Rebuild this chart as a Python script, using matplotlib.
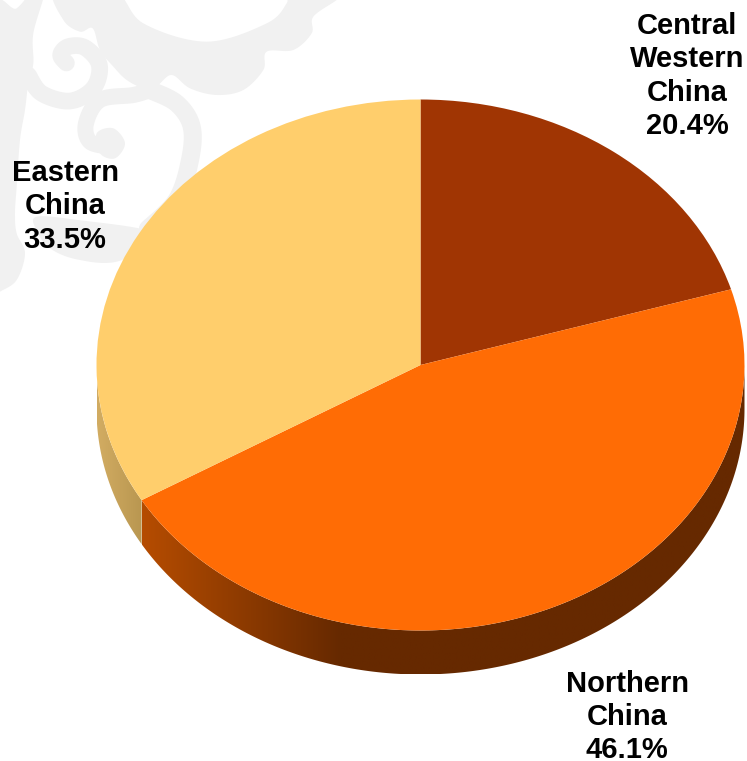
import numpy as np
import matplotlib
matplotlib.use("Agg")
import matplotlib.pyplot as plt
from matplotlib.path import Path
from matplotlib.patches import PathPatch, Polygon
from matplotlib.transforms import Affine2D
from matplotlib.colors import to_rgb

# Regional shares, clockwise from 12 o'clock
regions = ["Central\nWestern\nChina", "Northern\nChina", "Eastern\nChina"]
shares = [20.4, 46.1, 33.5]
slice_colors = ["#A03503", "#FF6C05", "#FFCE6C"]

W, H = 747, 761
CX, CY, RX, RY, DEPTH = 420.5, 365.0, 324.0, 265.5, 44.0

plt.rcParams["font.family"] = ["Liberation Sans", "DejaVu Sans"]
fig = plt.figure(figsize=(W / 100, H / 100), dpi=100, facecolor="white")
ax = fig.add_axes([0, 0, 1, 1])

# Pale ornament behind the pie, traced on a 3x canvas grid
orn = Affine2D().scale(1 / (3 * W), -1 / (3 * H)).translate(0, 1) + fig.transFigure
ORN = "#F1F1F1"


def smooth(points, closed=True, n=14):
    p = np.array(points, float)
    if closed:
        p = np.vstack([p[-1], p, p[0], p[1]])
    else:
        p = np.vstack([p[0], p, p[-1]])
    out = []
    t = np.linspace(0, 1, n, endpoint=False)[:, None]
    for i in range(1, len(p) - 2):
        a, b, c, d = p[i - 1], p[i], p[i + 1], p[i + 2]
        out.append(0.5 * (2 * b + (c - a) * t + (2 * a - 5 * b + 4 * c - d) * t**2
                          + (3 * b - a - 3 * c + d) * t**3))
    return np.vstack(out)


def blob(points, z=0.5):
    ax.add_patch(Polygon(smooth(points), closed=True, fc=ORN, ec="none",
                         transform=orn, zorder=z, clip_on=False))


def stroke(points, width):
    xy = smooth(points, closed=False)
    ax.plot(xy[:, 0], xy[:, 1], color=ORN, lw=width / 3 * 0.72, transform=orn,
            zorder=0.5, solid_capstyle="round", scalex=False, scaley=False)


# Scalloped band across the top, around an open dome
blob([(165, -30), (190, 60), (240, 95), (278, 85), (300, 150), (340, 200), (380, 240),
      (430, 264), (470, 258), (515, 225), (570, 265), (650, 285), (730, 270), (790, 210),
      (800, 155), (880, 150), (935, 100), (940, 50), (1010, 0), (1040, -30),
      (870, -30), (860, 10), (800, 70), (620, 125), (430, 70), (340, -30)])
# Column down the left edge, ending in a rounded lobe
blob([(-30, 70), (50, 25), (100, -30), (135, -30), (100, 100), (100, 190), (85, 250),
      (75, 330), (60, 420), (50, 560), (45, 640), (50, 700), (75, 760), (50, 840),
      (0, 875), (-30, 890)])
# Lower band that the large curl runs into
blob([(110, 650), (250, 662), (430, 688), (470, 720), (350, 785), (230, 778), (150, 745), (112, 695)])
# Two curls
stroke([(85, 225), (125, 280), (210, 303), (280, 265), (298, 195), (255, 143), (205, 140),
        (182, 165), (200, 190)], 50)
stroke([(450, 270), (400, 285), (300, 300), (258, 370), (270, 425), (330, 440)], 48)
stroke([(450, 270), (530, 310), (575, 380), (570, 480), (530, 600), (440, 690)], 54)
blob([(290, 400), (340, 385), (375, 430), (345, 475), (300, 460)])

# Top face of the pie
wedges, _ = ax.pie(shares, colors=slice_colors, startangle=90, counterclock=False,
                   radius=1, center=(0, 0), wedgeprops={"linewidth": 0})
for w in wedges:
    w.set_zorder(3)
ax.set_aspect("auto")

xlim = (-CX / RX, (W - CX) / RX)
ylim = (-(H - CY) / RY, CY / RY)
depth = DEPTH / RY


def side_wall(theta_start, theta_end, stops):
    """Extruded rim between two clockwise angles, shaded left-to-right by stops."""
    th = np.radians(np.linspace(theta_start, theta_end, 200))
    x, y = np.sin(th), np.cos(th)
    verts = np.vstack([np.c_[x, y], np.c_[x[::-1], y[::-1] - depth]])
    clip = PathPatch(Path(np.vstack([verts, verts[0]]), closed=True), fc="none", ec="none",
                     transform=ax.transData)
    ax.add_patch(clip)
    px = np.linspace(x.min(), x.max(), 256)
    sx = [s[0] for s in stops]
    rgb = np.array([to_rgb(s[1]) for s in stops])
    grad = np.stack([np.interp(px, sx, rgb[:, k]) for k in range(3)], axis=-1)[None, :, :]
    im = ax.imshow(grad, extent=(x.min(), x.max(), y.min() - depth, y.max()), aspect="auto",
                   origin="lower", zorder=2, interpolation="bilinear")
    im.set_clip_path(clip)


def px_x(v):
    return (v - CX) / RX


# Rim is visible only along the lower half of the ellipse
boundary = 360 * (shares[0] + shares[1]) / sum(shares)
side_wall(90, boundary, [(px_x(142), "#B54C00"), (px_x(340), "#662900"), (px_x(745), "#662900")])
side_wall(boundary, 270, [(px_x(97), "#D2AC62"), (px_x(142), "#B89650")])

ax.set_xlim(*xlim)
ax.set_ylim(*ylim)
ax.axis("off")

# Region labels with their percentages
label_pos = [(687, 76), (627, 717), (65, 206.5)]
for name, val, (lx, ly) in zip(regions, shares, label_pos):
    fig.text(lx / W, 1 - ly / H, f"{name}\n{val:.1f}%", ha="center", va="center", fontsize=21,
             fontweight="bold", color="black", linespacing=1.25, zorder=5)

fig.savefig("out.png", dpi=100)
